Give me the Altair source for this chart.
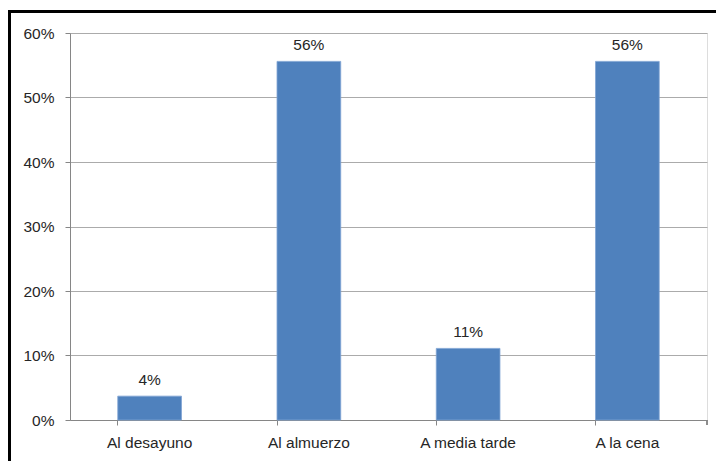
import altair as alt
import pandas as pd

categories = ["Al desayuno", "Al almuerzo", "A media tarde", "A la cena"]
values = [0.037, 0.556, 0.111, 0.556]

df = pd.DataFrame({"cat": categories, "val": values})

FONT = "Liberation Sans"
W, H = 637, 387

base = alt.Chart(df)

x = alt.X("cat:N", sort=categories, title=None,
          scale=alt.Scale(paddingInner=0.6, paddingOuter=0.3),
          axis=alt.Axis(labelAngle=0, bandPosition=0, ticks=True, tickSize=5,
                        tickColor="#868686", domainColor="#868686",
                        labelFontSize=15.5, labelFont=FONT, labelColor="#262626",
                        labelPadding=10, grid=False))
y = alt.Y("val:Q", title=None,
          scale=alt.Scale(domain=[0, 0.6], nice=False),
          axis=alt.Axis(format=".0%", values=[0, 0.1, 0.2, 0.3, 0.4, 0.5, 0.6],
                        tickSize=5, tickColor="#868686", domainColor="#868686",
                        gridColor="#ababab", labelFontSize=15.5, labelFont=FONT,
                        labelColor="#262626", labelPadding=11))

bars = base.mark_bar(color="#4F81BD", stroke="#7fa3d3", strokeWidth=0.8).encode(x=x, y=y)
labels = base.mark_text(baseline="bottom", dy=-8, fontSize=15.5, font=FONT,
                        color="#262626").encode(
    x=alt.X("cat:N", sort=categories), y="val:Q",
    text=alt.Text("val:Q", format=".0%"))

end_tick = base.mark_rule(color="#868686").encode(
    x=alt.value(W), y=alt.value(H), y2=alt.value(H + 5))

frame = base.mark_rect(fill=None, stroke="black", strokeWidth=3).encode(
    x=alt.value(-60.5), y=alt.value(-21.5), x2=alt.value(W + 100), y2=alt.value(H + 100))

chart = alt.layer(bars, labels, end_tick, frame).properties(
    width=W, height=H,
    autosize=alt.AutoSizeParams(type="none"),
    padding={"left": 70, "top": 33, "right": 9, "bottom": 41},
).configure_view(stroke=None).configure(background="white")

chart.save("out.html", embed_options={"renderer": "svg", "actions": False})
